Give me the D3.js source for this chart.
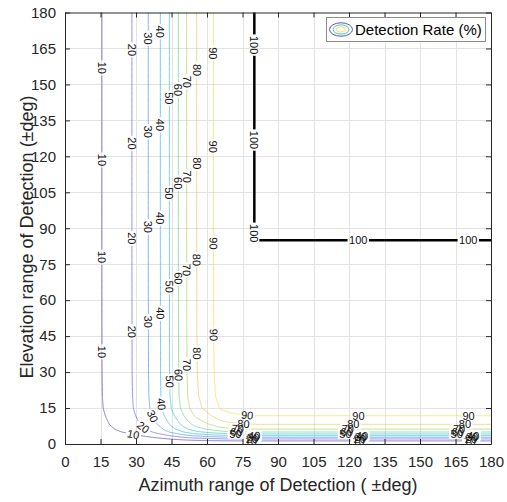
<!DOCTYPE html>
<html>
<head>
<meta charset="utf-8">
<script src="https://cdn.jsdelivr.net/npm/d3@7"></script>
<style>
  body { margin: 0; background: #fff; }
  svg text { font-family: "Liberation Sans", Arial, Helvetica, sans-serif; }
</style>
</head>
<body>
<svg id="chart" width="507" height="502"></svg>
<script>
// Contour levels of the detection rate (%)
const levels = [10, 20, 30, 40, 50, 60, 70, 80, 90, 100];

// Detection rate (%) against azimuth half-range, with the elevation range fully open
const azimuthDeg  = [0, 15.6, 28.3, 35.2, 40.3, 44.1, 47.9, 51.4, 55.6, 62.7, 66, 70, 75, 79, 80, 180];
const azimuthRate = [0, 10, 20, 30, 40, 50, 60, 70, 80, 90, 95, 97.5, 99, 99.8, 100, 100];

// Detection rate (%) against elevation half-range, with the azimuth range fully open
const elevationDeg  = [0, 1.3, 2.1, 2.8, 3.5, 4.2, 5.0, 6.2, 8.2, 11.8, 15, 20, 30, 50, 84, 85, 180];
const elevationRate = [0, 10, 20, 30, 40, 50, 60, 70, 80, 90, 96, 98.5, 99.5, 99.8, 99.95, 100, 100];

// Axis ticks
const xTickValues = [0, 15, 30, 45, 60, 75, 90, 105, 120, 135, 150, 165, 180];
const yTickValues = [0, 15, 30, 45, 60, 75, 90, 105, 120, 135, 150, 165, 180];

// Where the inline level labels sit: elevations on the upright branch,
// azimuths on the lower (bent / flat) branch
const labelElevations = {
  10: [156.9, 118.5, 78.0, 38.4],
  20: [164.4, 125.4, 85.8, 46.8],
  30: [169.2, 130.3, 90.6, 51.0],
  40: [172.0, 133.1, 94.2, 54.5],
  50: [144.2, 104.6, 65.6, 26.0],
  60: [147.7, 108.8, 69.1, 28.8],
  70: [151.1, 111.5, 72.6, 33.0],
  80: [156.0, 117.1, 76.8, 37.8],
  90: [163.0, 124.0, 83.7, 45.5],
  100: [166.4, 126.8, 87.9]
};
const labelAzimuths = {
  10: [28.9, 78.5, 124, 171],
  20: [33.1, 79, 124.5, 171.5],
  30: [37.0, 79.5, 125, 172],
  40: [40.8, 80, 125.5, 172.5],
  50: [72, 118.5, 165.5],
  60: [72.5, 119, 166],
  70: [73, 119.5, 166.5],
  80: [75.4, 121.8, 169],
  90: [77, 124, 170.5],
  100: [123.9, 170.4]
};

const levelColors = {
  10: "#3e26a8", 20: "#4547ed", 30: "#2a80f3", 40: "#1ca6e2", 50: "#14bab9",
  60: "#4ccc7a", 70: "#9fca41", 80: "#ebba3d", 90: "#f8d52a", 100: "#000000"
};

const W = 507, H = 502;
const plot = { left: 65, right: 491, top: 12.5, bottom: 444 };

const svg = d3.select("#chart");
const x = d3.scaleLinear().domain([0, 180]).range([plot.left, plot.right]);
const y = d3.scaleLinear().domain([0, 180]).range([plot.bottom, plot.top]);

// Profiles as piecewise-linear scales
const rateAz = d3.scaleLinear().domain(azimuthDeg).range(azimuthRate).clamp(true);
const rateEl = d3.scaleLinear().domain(elevationDeg).range(elevationRate).clamp(true);
const tidy = v => Math.round(v * 1e9) / 1e9;

// Sampling grid (finer in elevation close to the horizon)
const azGrid = d3.range(0, 721).map(k => k * 0.25);
const elGrid = d3.range(0, 400).map(k => +(k * 0.05).toFixed(3))
  .concat(d3.range(0, 321).map(k => 20 + k * 0.5));
const nx = azGrid.length, ny = elGrid.length;
const aVals = azGrid.map(v => tidy(rateAz(v))), eVals = elGrid.map(v => tidy(rateEl(v)));
const values = new Float64Array(nx * ny);
for (let j = 0; j < ny; j++) {
  for (let i = 0; i < nx; i++) values[j * nx + i] = tidy(aVals[i] * eVals[j] / 100);
}

const contourSets = d3.contours().size([nx, ny]).thresholds(levels)(values);

// grid coordinate -> data value along one axis
function gridToData(c, axisVals) {
  const f = Math.max(0, Math.min(axisVals.length - 1, c - 0.5));
  const i = Math.min(axisVals.length - 2, Math.floor(f));
  const t = f - i;
  return axisVals[i] + t * (axisVals[i + 1] - axisVals[i]);
}

// Keep the parts of each ring that lie inside the grid (drop the edges of the domain)
function interiorRuns(ring) {
  const pts = ring.slice(0, -1);
  const inside = pts.map(p => p[0] > 0.25 && p[0] < nx - 0.25 && p[1] > 0.25 && p[1] < ny - 0.25);
  const start = inside.indexOf(false);
  if (start < 0) return [pts.concat([pts[0]])];
  const runs = [];
  let cur = [];
  for (let k = 1; k <= pts.length; k++) {
    const idx = (start + k) % pts.length;
    if (inside[idx]) cur.push(pts[idx]);
    else { if (cur.length > 1) runs.push(cur); cur = []; }
  }
  if (cur.length > 1) runs.push(cur);
  return runs;
}

const lines = contourSets.map(set => {
  const runs = [];
  set.coordinates.forEach(poly => poly.forEach(ring => {
    interiorRuns(ring).forEach(run => {
      runs.push(run.map(p => [x(gridToData(p[0], azGrid)), y(gridToData(p[1], elGrid))]));
    });
  }));
  return { level: set.value, runs };
});

// ---- grid ----
const gridG = svg.append("g").attr("stroke", "#e3e3e3").attr("stroke-width", 1);
gridG.selectAll("line.vx").data(xTickValues.slice(1, -1)).join("line")
  .attr("x1", d => Math.round(x(d)) + 0.5).attr("x2", d => Math.round(x(d)) + 0.5)
  .attr("y1", plot.top).attr("y2", plot.bottom);
gridG.selectAll("line.hy").data(yTickValues.slice(1, -1)).join("line")
  .attr("y1", d => Math.round(y(d)) + 0.5).attr("y2", d => Math.round(y(d)) + 0.5)
  .attr("x1", plot.left).attr("x2", plot.right);

// ---- contour labels (placed first so the lines can be gapped under them) ----
const defs = svg.append("defs");
const mask = defs.append("mask").attr("id", "labelGaps")
  .attr("maskUnits", "userSpaceOnUse").attr("x", 0).attr("y", 0).attr("width", W).attr("height", H);
mask.append("rect").attr("x", 0).attr("y", 0).attr("width", W).attr("height", H).attr("fill", "#fff");

function arcTable(pts) {
  const s = [0];
  for (let k = 1; k < pts.length; k++) s.push(s[k - 1] + Math.hypot(pts[k][0] - pts[k - 1][0], pts[k][1] - pts[k - 1][1]));
  return s;
}
function pointAt(pts, s, d) {
  d = Math.max(0, Math.min(s[s.length - 1], d));
  let k = d3.bisectRight(s, d) - 1;
  k = Math.max(0, Math.min(pts.length - 2, k));
  const seg = s[k + 1] - s[k] || 1;
  const t = (d - s[k]) / seg;
  return [pts[k][0] + t * (pts[k + 1][0] - pts[k][0]), pts[k][1] + t * (pts[k + 1][1] - pts[k][1])];
}
function locate(pts, s, dim, target) {
  for (let k = 0; k < pts.length - 1; k++) {
    const a = pts[k][dim] - target, b = pts[k + 1][dim] - target;
    if (a === b) continue;
    if (a * b <= 0) {
      const t = a / (a - b);
      return s[k] + t * (s[k + 1] - s[k]);
    }
  }
  return null;
}

const labelG = svg.append("g").attr("class", "contour-labels");
lines.forEach(L => {
  if (!L.runs.length) return;
  const pts = L.runs.reduce((a, b) => (b.length > a.length ? b : a));
  const s = arcTable(pts);
  const anchors = (labelElevations[L.level] || []).map(v => locate(pts, s, 1, y(v)))
    .concat((labelAzimuths[L.level] || []).map(v => locate(pts, s, 0, x(v))));
  anchors.filter(a => a !== null).forEach(a => {
    const p = pointAt(pts, s, a);
    const p0 = pointAt(pts, s, a - 5), p1 = pointAt(pts, s, a + 5);
    let ang = Math.atan2(p1[1] - p0[1], p1[0] - p0[0]) * 180 / Math.PI;
    if (ang > 90) ang -= 180;
    if (ang <= -90) ang += 180;
    const t = labelG.append("text")
      .attr("transform", `translate(${p[0]},${p[1]}) rotate(${ang})`)
      .attr("text-anchor", "middle").attr("dominant-baseline", "central")
      .attr("font-size", 11).attr("fill", "#111").text(L.level);
    const w = t.node().getComputedTextLength() + 3;
    mask.append("rect")
      .attr("transform", `translate(${p[0]},${p[1]}) rotate(${ang})`)
      .attr("x", -w / 2).attr("y", -5).attr("width", w).attr("height", 10).attr("fill", "#000");
  });
});

// ---- contour lines ----
const lineGen = d3.line();
const contourG = svg.insert("g", ".contour-labels").attr("mask", "url(#labelGaps)").attr("fill", "none");
lines.forEach(L => {
  contourG.selectAll(null).data(L.runs).join("path")
    .attr("d", lineGen)
    .attr("stroke", levelColors[L.level])
    .attr("stroke-opacity", L.level === 100 ? 1 : 0.8)
    .attr("stroke-width", L.level === 100 ? 2.5 : 0.75)
    .attr("stroke-linejoin", "round");
});

// ---- axes ----
const axisColor = "#262626";
const fmt = d3.format("d");
const gx = svg.append("g").attr("transform", `translate(0,${plot.bottom})`)
  .call(d3.axisBottom(x).tickValues(xTickValues).tickFormat(fmt).tickSizeInner(-5).tickSizeOuter(0).tickPadding(12));
const gy = svg.append("g").attr("transform", `translate(${plot.left},0)`)
  .call(d3.axisLeft(y).tickValues(yTickValues).tickFormat(fmt).tickSizeInner(-5).tickSizeOuter(0).tickPadding(9));
const gxt = svg.append("g").attr("transform", `translate(0,${plot.top})`)
  .call(d3.axisTop(x).tickValues(xTickValues).tickFormat("").tickSizeInner(-5).tickSizeOuter(0));
const gyr = svg.append("g").attr("transform", `translate(${plot.right},0)`)
  .call(d3.axisRight(y).tickValues(yTickValues).tickFormat("").tickSizeInner(-5).tickSizeOuter(0));
[gx, gy, gxt, gyr].forEach(g => {
  g.selectAll("path.domain").attr("stroke", axisColor);
  g.selectAll(".tick line").attr("stroke", axisColor);
  g.selectAll(".tick text").attr("fill", axisColor).attr("font-size", 15)
    .attr("font-family", "Liberation Sans, Arial, sans-serif");
});

svg.append("text").attr("x", (plot.left + plot.right) / 2).attr("y", 491)
  .attr("text-anchor", "middle").attr("font-size", 18).attr("fill", axisColor)
  .text("Azimuth range of Detection ( \u00b1deg)");
svg.append("text").attr("transform", `translate(33,237) rotate(-90)`)
  .attr("text-anchor", "middle").attr("font-size", 18).attr("fill", axisColor)
  .text("Elevation range of Detection (\u00b1deg)");

// ---- legend ----
const leg = svg.append("g");
leg.append("rect").attr("x", 326.5).attr("y", 17.5).attr("width", 159).attr("height", 24)
  .attr("fill", "#fff").attr("stroke", "#8c8c8c").attr("stroke-width", 1);
[[11.5, 6.7, levelColors[10]], [8, 4.6, levelColors[50]], [4.5, 2.5, levelColors[90]]].forEach(e => {
  leg.append("ellipse").attr("cx", 341).attr("cy", 29.5).attr("rx", e[0]).attr("ry", e[1])
    .attr("fill", "none").attr("stroke", e[2]).attr("stroke-width", 1).attr("stroke-opacity", 0.8);
});
leg.append("text").attr("x", 355).attr("y", 35).attr("font-size", 15).attr("fill", "#000")
  .text("Detection Rate (%)");
</script>
</body>
</html>
